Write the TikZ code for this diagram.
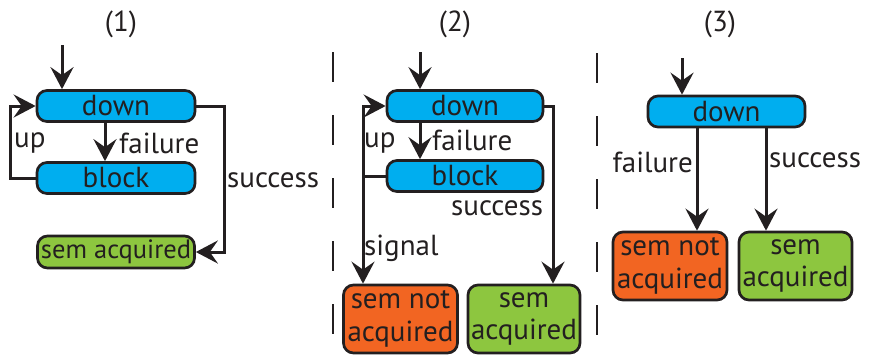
\documentclass[tikz,border=0pt]{standalone}
\usepackage{fontspec}
\setmainfont{PT Sans}
\usetikzlibrary{arrows.meta}
\definecolor{ink}{HTML}{231F20}
\definecolor{stateblue}{HTML}{00AEEF}
\definecolor{okgreen}{HTML}{8DC63F}
\definecolor{failorange}{HTML}{F26522}
\tikzset{
  lbl/.style={font=\fontsize{29}{32.5}\selectfont},
  txt/.style={lbl, text=ink, inner sep=0pt},
  state/.style={draw=ink, line width=2.7pt, rounded corners=10pt, inner sep=0pt,
    lbl, text=ink, align=center},
  opstate/.style={state, fill=stateblue, minimum height=31pt},
  okstate/.style={state, fill=okgreen},
  failstate/.style={state, fill=failorange},
  flow/.style={draw=ink, line width=3pt,
    -{Stealth[length=22pt, width=23pt, inset=8pt]}},
  wire/.style={draw=ink, line width=3pt},
  divider/.style={draw=ink, line width=2.7pt, dash pattern=on 30pt off 33pt},
}
\begin{document}
\begin{tikzpicture}[x=1pt, y=-1pt]
\useasboundingbox (0,0) rectangle (869,354);

% panel titles
\node[txt] (t1) at (121,24) {(1)};
\node[txt] (t2) at (455,24) {(2)};
\node[txt] (t3) at (720,24) {(3)};

% separators between the panels
\coordinate (d1a) at (333,52);
\coordinate (d1b) at (333,354);
\coordinate (d2a) at (597,53);
\coordinate (d2b) at (597,354);
\draw[divider] (d1a) -- (d1b);
\draw[divider] (d2a) -- (d2b);

% ---------- panel (1) ----------
\node[opstate, minimum width=158pt] (down1) at (116,106) {down};
\node[opstate, minimum width=158pt] (block1) at (116,178) {block};
\node[okstate, minimum width=157pt, minimum height=32pt,
      font=\fontsize{26.5}{30}\selectfont] (acq1) at (116,252) {sem acquired};
\coordinate (in1) at (62,45);
\draw[flow] (in1) -- (in1 |- down1.north);
\draw[flow] (down1.south -| 105,0) -- (block1.north -| 105,0);
\node[txt, anchor=west] (fail1) at (119,143) {failure};
\draw[flow] (block1.west) -- ++(-25,0) |- (down1.west);
\node[txt, anchor=west] (up1) at (14,143) {up};
\draw[flow] (down1.east) -- ++(28,0) |- (acq1.east);
\node[txt, anchor=west] (succ1) at (227,180) {success};

% ---------- panel (2) ----------
\node[opstate, minimum width=156pt] (down2) at (465,106) {down};
\node[opstate, minimum width=156pt] (block2) at (465,176) {block};
\node[failstate, minimum width=114pt, minimum height=68pt] (nacq2) at (400.5,319) {sem not\\acquired};
\node[okstate, minimum width=112pt, minimum height=68pt] (acq2) at (524,319) {sem\\acquired};
\coordinate (in2) at (420,52);
\draw[flow] (in2) -- (in2 |- down2.north);
\draw[flow] (down2.south -| 420,0) -- (block2.north -| 420,0);
\node[txt, anchor=west] (fail2) at (432,140) {failure};
\coordinate (upcol) at (363,176);
\draw[wire] (block2.west) -- (upcol);
\draw[flow] (upcol) |- (down2.west);
\draw[flow] (upcol) -- (upcol |- nacq2.north);
\node[txt, anchor=west] (up2) at (364,143) {up};
\node[txt, anchor=west] (sig2) at (364,248) {signal};
\coordinate (sturn) at (553,106);
\draw[flow] (down2.east) -- (sturn) -- (sturn |- acq2.north);
\node[txt, anchor=west] (succ2) at (451,208) {success};

% ---------- panel (3) ----------
\node[opstate, minimum width=157pt] (down3) at (726.5,111.5) {down};
\node[failstate, minimum width=114pt, minimum height=68pt] (nacq3) at (670,266) {sem not\\acquired};
\node[okstate, minimum width=113pt, minimum height=68pt] (acq3) at (795.5,266) {sem\\acquired};
\coordinate (in3) at (682,58);
\draw[flow] (in3) -- (in3 |- down3.north);
\draw[flow] (down3.south -| 697,0) -- (nacq3.north -| 697,0);
\draw[flow] (down3.south -| 766,0) -- (acq3.north -| 766,0);
\node[txt, anchor=east] (fail3) at (693,162) {failure};
\node[txt, anchor=west] (succ3) at (769,160) {success};
\end{tikzpicture}
\end{document}
